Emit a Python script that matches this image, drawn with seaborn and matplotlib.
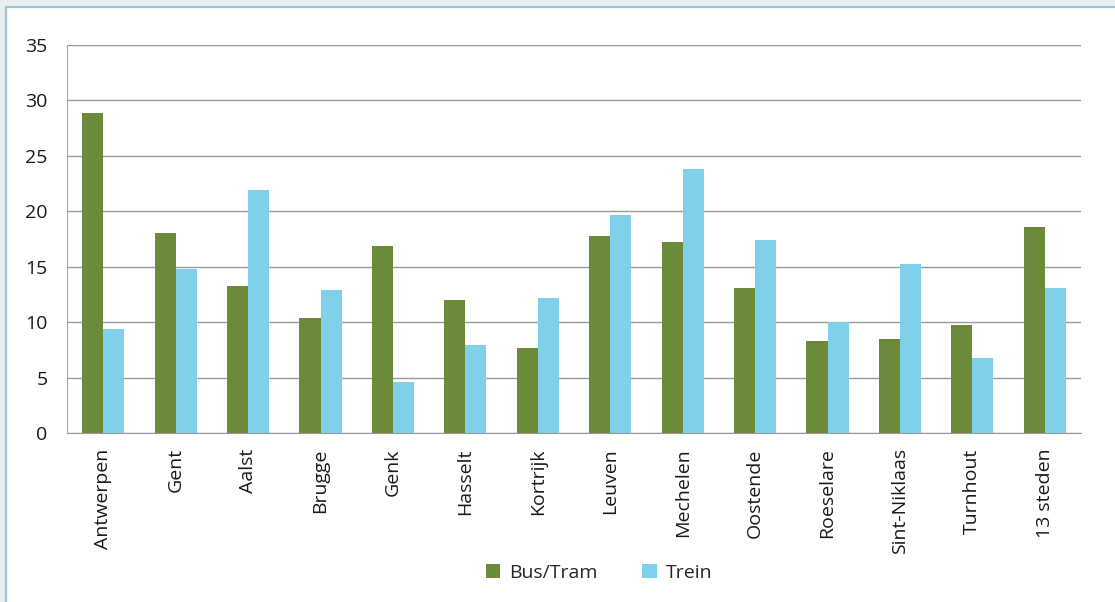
import pandas as pd
import matplotlib.pyplot as plt
import matplotlib.patches as mpatches
import seaborn as sns

# Data
steden = ['Antwerpen', 'Gent', 'Aalst', 'Brugge', 'Genk', 'Hasselt', 'Kortrijk',
          'Leuven', 'Mechelen', 'Oostende', 'Roeselare', 'Sint-Niklaas',
          'Turnhout', '13 steden']
bus_tram = [28.9, 18.0, 13.3, 10.4, 16.9, 12.0, 7.7, 17.8, 17.2, 13.1, 8.3, 8.5, 9.7, 18.6]
trein = [9.4, 14.8, 21.9, 12.9, 4.6, 7.9, 12.2, 19.7, 23.8, 17.4, 10.0, 15.2, 6.8, 13.1]
series = ['Bus/Tram', 'Trein']
colors = ['#6b8a3a', '#7fd1ea']

df = pd.DataFrame({'Stad': steden * 2,
                   'Vervoer': [series[0]] * len(steden) + [series[1]] * len(steden),
                   'Waarde': bus_tram + trein})

sns.set_style('white')
plt.rcParams['font.family'] = ['Open Sans', 'DejaVu Sans']

fig = plt.figure(figsize=(11.15, 6.02), dpi=100)
fig.patch.set_facecolor('#e9eef1')
# white panel with blue-ish frame line (top/left only visible)
fig.patches.append(mpatches.Rectangle((5.5 / 1115, -0.05), 1.1, 1 - 6.5 / 602 + 0.05,
                                      transform=fig.transFigure, facecolor='white',
                                      edgecolor='#9cc4d6', linewidth=1.6, zorder=-1))

ax = fig.add_axes([67 / 1115, 1 - 433 / 602, (1081 - 67) / 1115, (433 - 45) / 602])
ax.set_facecolor('none')

sns.barplot(data=df, x='Stad', y='Waarde', hue='Vervoer', palette=colors,
            saturation=1, width=0.58, gap=0, ax=ax, legend=True,
            edgecolor='none', linewidth=0)

ax.set_ylim(0, 35)
ax.set_xlim(-0.5, len(steden) - 0.5)
ax.set_yticks(range(0, 36, 5))
ax.yaxis.grid(True, color='#999999', linewidth=1)
ax.set_axisbelow(True)
ax.set_xlabel('')
ax.set_ylabel('')

for side in ['top', 'right']:
    ax.spines[side].set_visible(False)
ax.spines['left'].set_color('#aaaaaa')
ax.spines['bottom'].set_color('#999999')

ax.tick_params(axis='y', length=9, color='#999999', labelsize=14, pad=5, labelcolor='#1a1a1a')
ax.set_xticks([i - 0.5 for i in range(len(steden) + 1)], minor=True)
ax.tick_params(axis='x', which='minor', length=8, color='#aaaaaa', direction='out')
ax.tick_params(axis='x', which='major', length=0, labelsize=14, pad=11, labelcolor='#1a1a1a')
plt.setp(ax.get_xticklabels(), rotation=90)

handles, labels = ax.get_legend_handles_labels()
ax.legend(handles, labels, loc='center', bbox_to_anchor=(599 / 1115, 1 - 573 / 602),
          bbox_transform=fig.transFigure, ncol=2, frameon=False, fontsize=14,
          handlelength=0.75, handleheight=0.75, columnspacing=2.3, handletextpad=0.45)

fig.savefig('out.png', dpi=100)
